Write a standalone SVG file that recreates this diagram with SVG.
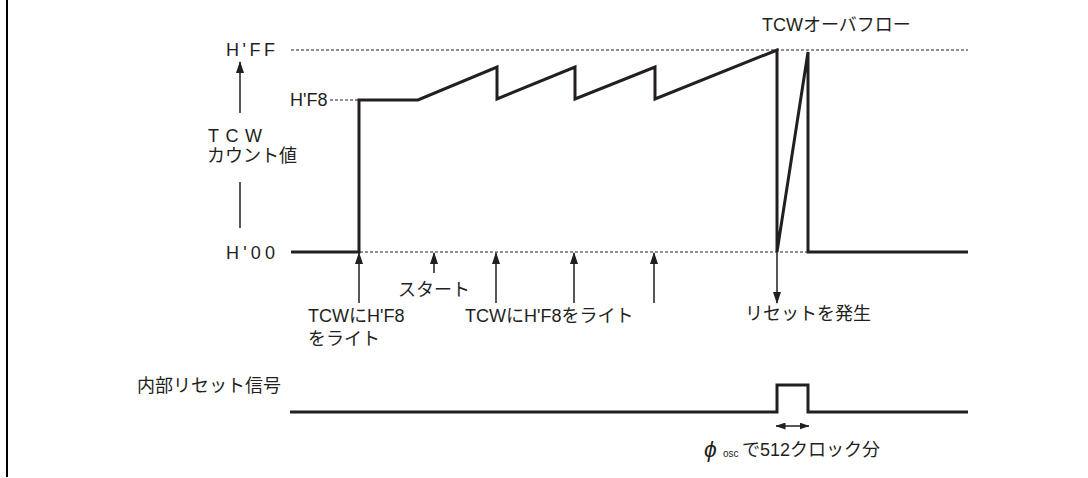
<svg xmlns="http://www.w3.org/2000/svg" width="1088" height="478" viewBox="0 0 1088 478">
<style>
text{font-family:"Liberation Sans","Noto Sans CJK JP",sans-serif;font-size:18px;fill:#231f20}
.wave{fill:none;stroke:#231f20;stroke-width:3;stroke-linejoin:miter}
.dot{fill:none;stroke:#231f20;stroke-width:1;stroke-dasharray:3 2}
.arr{fill:none;stroke:#231f20;stroke-width:1.5}
</style>
<defs>
<marker id="ah" markerUnits="userSpaceOnUse" markerWidth="12" markerHeight="8" viewBox="0 0 12 8" refX="11" refY="4" orient="auto">
<path d="M0,0 L12,4 L0,8 Z" fill="#231f20"/>
</marker>
<marker id="ahs" markerUnits="userSpaceOnUse" markerWidth="10" markerHeight="7" viewBox="0 0 10 7" refX="9.5" refY="3.5" orient="auto-start-reverse">
<path d="M0,0 L10,3.5 L0,7 Z" fill="#231f20"/>
</marker>
</defs>
<rect width="1088" height="478" fill="#fff"/>
<line x1="7" y1="0" x2="7" y2="477" stroke="#000" stroke-width="2"/>

<g id="axis-labels">
<text x="226" y="56" textLength="49" lengthAdjust="spacing">H'FF</text>
<text x="290" y="106">H'F8</text>
<text x="226" y="259" textLength="49" lengthAdjust="spacing">H'00</text>
<text x="208" y="142" textLength="54" lengthAdjust="spacing">TCW</text>
<text x="207" y="162">カウント値</text>
</g>

<g id="guides">
<line class="dot" x1="291" y1="50" x2="968" y2="50"/>
<line class="dot" x1="330" y1="100" x2="358" y2="100"/>
<line class="dot" x1="360" y1="252" x2="808" y2="252"/>
</g>

<g id="tcw-wave">
<polyline class="wave" points="291,252 359,252 359,100 418,100 497,67 497,99 575,67 575,99 655,67 655,99 777,50 777,252 808,52 808,252 968,252"/>
</g>

<g id="reset-wave">
<polyline class="wave" points="290,412 777,412 777,385 808,385 808,412 968,412"/>
</g>

<g id="connectors">
<line class="arr" x1="240" y1="113" x2="240" y2="62" marker-end="url(#ah)"/>
<line class="arr" x1="240" y1="182" x2="240" y2="228"/>
<line class="arr" x1="359" y1="303" x2="359" y2="253" marker-end="url(#ah)"/>
<line class="arr" x1="434" y1="273" x2="434" y2="253" marker-end="url(#ah)"/>
<line class="arr" x1="496" y1="303" x2="496" y2="253" marker-end="url(#ah)"/>
<line class="arr" x1="574" y1="303" x2="574" y2="253" marker-end="url(#ah)"/>
<line class="arr" x1="654" y1="303" x2="654" y2="253" marker-end="url(#ah)"/>
<line class="arr" x1="777" y1="252" x2="777" y2="303" marker-end="url(#ah)"/>
<line class="arr" x1="776" y1="426" x2="809" y2="426" marker-start="url(#ahs)" marker-end="url(#ahs)"/>
</g>

<g id="labels">
<text x="762" y="31">TCWオーバフロー</text>
<text x="398" y="296">スタート</text>
<text x="308" y="322">TCWにH'F8</text>
<text x="308" y="345">をライト</text>
<text x="465" y="322">TCWにH'F8をライト</text>
<text x="745" y="320">リセットを発生</text>
<text x="281" y="392" text-anchor="end">内部リセット信号</text>
<text x="704" y="457"><tspan font-style="italic" font-size="23">ϕ</tspan><tspan x="723" font-size="10">osc</tspan><tspan x="742" y="456">で512クロック分</tspan></text>
</g>
</svg>
